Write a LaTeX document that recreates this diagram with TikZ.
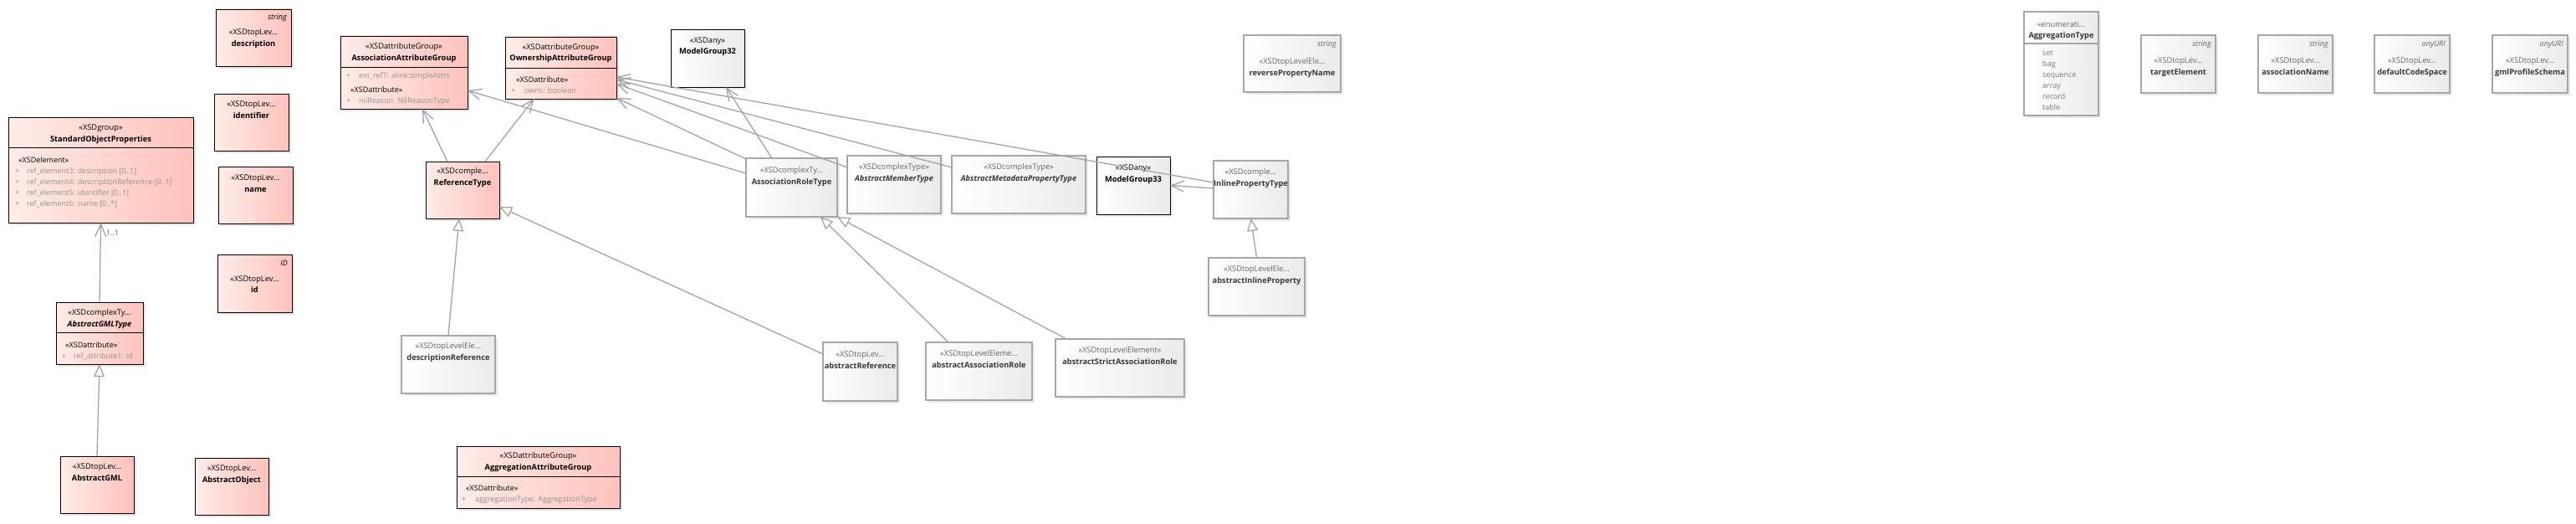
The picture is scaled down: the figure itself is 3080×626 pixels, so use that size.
\documentclass[tikz,border=0pt]{standalone}
\usepackage{fontspec}
\setmainfont{Open Sans}
\usetikzlibrary{arrows.meta,shadows}
\definecolor{pinkL}{RGB}{255,236,233}
\definecolor{pinkR}{RGB}{255,194,188}
\definecolor{boxgray}{RGB}{165,165,170}
\definecolor{linegray}{RGB}{163,163,168}
\definecolor{attrgray}{RGB}{145,145,145}
\definecolor{stgray}{RGB}{100,100,110}
\newcommand{\hd}[2]{\begin{tabular}[t]{@{}c@{}}#1\\#2\end{tabular}}
\newcommand{\ghd}[2]{\hd{\color{stgray}#1}{#2}}
\tikzset{pinkbox/.style = {draw, line width=0.9, left color=pinkL, right color=pinkR, anchor=north west, inner sep=0, outer sep=0, drop shadow={shadow xshift=3pt, shadow yshift=-3pt, opacity=.1, fill=black}}}
\tikzset{graybox/.style = {draw=boxgray, line width=1.5, left color=white, right color=black!8, anchor=north west, inner sep=0, outer sep=0, drop shadow={shadow xshift=3pt, shadow yshift=-3pt, opacity=.08, fill=black}}}
\tikzset{anybox/.style = {draw, line width=0.9, left color=white, right color=black!8, anchor=north west, inner sep=0, outer sep=0, drop shadow={shadow xshift=3pt, shadow yshift=-3pt, opacity=.08, fill=black}}}
\tikzset{txt/.style = {anchor=base, inner sep=0, font=\fontsize{9.3}{13.5}\selectfont}}
\tikzset{gtxt/.style = {txt, text={rgb,255:red,55;green,55;blue,62}}}
\tikzset{attr/.style = {anchor=base west, inner sep=0, text=attrgray, font=\fontsize{9}{13}\selectfont}}
\tikzset{typ/.style = {anchor=base east, inner sep=0, font=\fontsize{9}{11}\selectfont\itshape}}
\tikzset{lbl/.style = {inner sep=0, text=stgray, font=\fontsize{9}{11}\selectfont}}
\tikzset{assoc/.style = {draw=linegray, line width=1.3, -{Straight Barb[length=15pt, width=13pt]}}}
\tikzset{gen/.style = {draw=linegray, line width=1.3, -{Triangle[open, length=15pt, width=13pt, fill=white]}}}

\begin{document}
\begin{tikzpicture}[x=1pt, y=-1pt]
\fill[white] (0,0) rectangle (3080,626);
\useasboundingbox (0,0) rectangle (3080,626);

% top level elements
\node[pinkbox, minimum width=90, minimum height=68] (descr) at (258,11) {};
\node[typ] (descr-ty) at ([xshift=-5, yshift=-13]descr.north east) {string};
\node[txt] (descr-t) at ([yshift=-31]descr.north) {\hd{«XSDtopLev...}{\textbf{description}}};
\node[pinkbox, minimum width=89, minimum height=68] (ident) at (256,112) {};
\node[txt] (ident-t) at ([yshift=-15.5]ident.north) {\hd{«XSDtopLev...}{\textbf{identifier}}};
\node[pinkbox, minimum width=89, minimum height=68] (nm) at (261,199) {};
\node[txt] (nm-t) at ([yshift=-16.5]nm.north) {\hd{«XSDtopLev...}{\textbf{name}}};
\node[pinkbox, minimum width=89, minimum height=69] (idbox) at (260,304) {};
\node[typ] (idbox-ty) at ([xshift=-5, yshift=-13]idbox.north east) {ID};
\node[txt] (idbox-t) at ([yshift=-32]idbox.north) {\hd{«XSDtopLev...}{\textbf{id}}};
\node[pinkbox, minimum width=88, minimum height=68] (agml) at (72,545) {};
\node[txt] (agml-t) at ([yshift=-15.5]agml.north) {\hd{«XSDtopLev...}{\textbf{AbstractGML}}};
\node[pinkbox, minimum width=88, minimum height=68] (aobj) at (233,547) {};
\node[txt] (aobj-t) at ([yshift=-15.5]aobj.north) {\hd{«XSDtopLev...}{\textbf{AbstractObject}}};
\node[pinkbox, minimum width=88, minimum height=68] (reft) at (509,193) {};
\node[txt] (reft-t) at ([yshift=-14.5]reft.north) {\hd{«XSDcomple...}{\textbf{ReferenceType}}};

% groups with compartments
\node[pinkbox, minimum width=221, minimum height=126] (sop) at (10,140) {};
\draw ([yshift=-36]sop.north west) -- ([yshift=-36]sop.north east);
\node[txt] (sop-t) at ([yshift=-15.5]sop.north) {\hd{«XSDgroup»}{\textbf{StandardObjectProperties}}};
\node[attr] (sop-a) at ([xshift=8, yshift=-54.5]sop.north west) {\begin{tabular}[t]{@{}p{14pt}@{}l@{}}
\multicolumn{2}{@{\hspace{4pt}}l@{}}{\color{black}«XSDelement»}\\
+ & ref\_element3: description [0..1]\\
+ & ref\_element4: descriptionReference [0..1]\\
+ & ref\_element5: identifier [0..1]\\
+ & ref\_element6: name [0..*]
\end{tabular}};

\node[pinkbox, minimum width=104, minimum height=74] (agmlt) at (67,361) {};
\draw ([yshift=-36]agmlt.north west) -- ([yshift=-36]agmlt.north east);
\node[txt] (agmlt-t) at ([yshift=-15.5]agmlt.north) {\hd{«XSDcomplexTy...}{\textbf{\textit{AbstractGMLType}}}};
\node[attr] (agmlt-a) at ([xshift=7, yshift=-54.5]agmlt.north west) {\begin{tabular}[t]{@{}p{14pt}@{}l@{}}
\multicolumn{2}{@{\hspace{4pt}}l@{}}{\color{black}«XSDattribute»}\\
+ & ref\_attribute1: id
\end{tabular}};

\node[pinkbox, minimum width=152, minimum height=87] (aag) at (407,43) {};
\draw ([yshift=-37]aag.north west) -- ([yshift=-37]aag.north east);
\node[txt] (aag-t) at ([yshift=-15.5]aag.north) {\hd{«XSDattributeGroup»}{\textbf{AssociationAttributeGroup}}};
\node[attr] (aag-a) at ([xshift=7, yshift=-50.5]aag.north west) {\begin{tabular}[t]{@{}p{15pt}@{}l@{}}
+ & ext\_ref7: xlink:simpleAttrs\\[4pt]
\multicolumn{2}{@{\hspace{5pt}}l@{}}{\color{black}«XSDattribute»}\\
+ & nilReason: NilReasonType
\end{tabular}};

\node[pinkbox, minimum width=133, minimum height=74] (oag) at (604,44) {};
\draw ([yshift=-37]oag.north west) -- ([yshift=-37]oag.north east);
\node[txt] (oag-t) at ([yshift=-15.5]oag.north) {\hd{«XSDattributeGroup»}{\textbf{OwnershipAttributeGroup}}};
\node[attr] (oag-a) at ([xshift=7, yshift=-54.5]oag.north west) {\begin{tabular}[t]{@{}p{16pt}@{}l@{}}
\multicolumn{2}{@{\hspace{6pt}}l@{}}{\color{black}«XSDattribute»}\\
+ & owns: boolean
\end{tabular}};

\node[pinkbox, minimum width=195, minimum height=74] (aggag) at (546,533) {};
\draw ([yshift=-36]aggag.north west) -- ([yshift=-36]aggag.north east);
\node[txt] (aggag-t) at ([yshift=-14.5]aggag.north) {\hd{«XSDattributeGroup»}{\textbf{AggregationAttributeGroup}}};
\node[attr] (aggag-a) at ([xshift=6, yshift=-53.5]aggag.north west) {\begin{tabular}[t]{@{}p{16pt}@{}l@{}}
\multicolumn{2}{@{\hspace{5pt}}l@{}}{\color{black}«XSDattribute»}\\
+ & aggregationType: AggregationType
\end{tabular}};

% any groups
\node[anybox, minimum width=88, minimum height=69] (mg32) at (802,35) {};
\node[txt] (mg32-t) at ([yshift=-16.5]mg32.north) {\hd{«XSDany»}{\textbf{ModelGroup32}}};
\node[anybox, minimum width=88, minimum height=69] (mg33) at (1311,187) {};
\node[txt] (mg33-t) at ([yshift=-16.5]mg33.north) {\hd{«XSDany»}{\textbf{ModelGroup33}}};

% imported types
\node[graybox, minimum width=109, minimum height=70] (art) at (892,189) {};
\node[gtxt] (art-t) at ([yshift=-17.5]art.north) {\ghd{«XSDcomplexTy...}{\textbf{AssociationRoleType}}};
\node[graybox, minimum width=112, minimum height=69] (amt) at (1013,186) {};
\node[gtxt] (amt-t) at ([yshift=-16.5]amt.north) {\ghd{«XSDcomplexType»}{\textbf{\textit{AbstractMemberType}}}};
\node[graybox, minimum width=160, minimum height=69] (ampt) at (1138,186) {};
\node[gtxt] (ampt-t) at ([yshift=-16.5]ampt.north) {\ghd{«XSDcomplexType»}{\textbf{\textit{AbstractMetadataPropertyType}}}};
\node[graybox, minimum width=89, minimum height=69] (ipt) at (1451,192) {};
\node[gtxt] (ipt-t) at ([yshift=-16.5]ipt.north) {\ghd{«XSDcomple...}{\textbf{InlinePropertyType}}};
\node[graybox, minimum width=112, minimum height=69] (descref) at (480,401) {};
\node[gtxt] (descref-t) at ([yshift=-15.5]descref.north) {\ghd{«XSDtopLevelEle...}{\textbf{descriptionReference}}};
\node[graybox, minimum width=89, minimum height=70] (absref) at (984,409) {};
\node[gtxt] (absref-t) at ([yshift=-17.5]absref.north) {\ghd{«XSDtopLev...}{\textbf{abstractReference}}};
\node[graybox, minimum width=127, minimum height=69] (aar) at (1107,409) {};
\node[gtxt] (aar-t) at ([yshift=-16.5]aar.north) {\ghd{«XSDtopLevelEleme...}{\textbf{abstractAssociationRole}}};
\node[graybox, minimum width=154, minimum height=69] (asar) at (1262,405) {};
\node[gtxt] (asar-t) at ([yshift=-16.5]asar.north) {\ghd{«XSDtopLevelElement»}{\textbf{abstractStrictAssociationRole}}};
\node[graybox, minimum width=115, minimum height=69] (aip) at (1445,308) {};
\node[gtxt] (aip-t) at ([yshift=-16.5]aip.north) {\ghd{«XSDtopLevelEle...}{\textbf{abstractInlineProperty}}};
\node[graybox, minimum width=116, minimum height=68] (rpn) at (1487,42) {};
\node[typ, text=stgray] (rpn-ty) at ([xshift=-5, yshift=-13.5]rpn.north east) {string};
\node[gtxt] (rpn-t) at ([yshift=-34.5]rpn.north) {\ghd{«XSDtopLevelEle...}{\textbf{reversePropertyName}}};

% right hand row
\node[graybox, minimum width=89, minimum height=124] (aggt) at (2420,14) {};
\draw[boxgray, line width=1.5] ([yshift=-38]aggt.north west) -- ([yshift=-38]aggt.north east);
\node[gtxt] (aggt-t) at ([yshift=-18.5]aggt.north) {\ghd{«enumerati...}{\textbf{AggregationType}}};
\node[attr, text=black!52] (aggt-a) at ([xshift=22, yshift=-52.5]aggt.north west) {\begin{tabular}[t]{@{}l@{}}
set\\ bag\\ sequence\\ array\\ record\\ table
\end{tabular}};
\node[graybox, minimum width=89, minimum height=69] (tgt) at (2560,42) {};
\node[typ, text=stgray] (tgt-ty) at ([xshift=-5, yshift=-14]tgt.north east) {string};
\node[gtxt] (tgt-t) at ([yshift=-33.5]tgt.north) {\ghd{«XSDtopLev...}{\textbf{targetElement}}};
\node[graybox, minimum width=89, minimum height=69] (asn) at (2700,42) {};
\node[typ, text=stgray] (asn-ty) at ([xshift=-5, yshift=-14]asn.north east) {string};
\node[gtxt] (asn-t) at ([yshift=-33.5]asn.north) {\ghd{«XSDtopLev...}{\textbf{associationName}}};
\node[graybox, minimum width=90, minimum height=69] (dcs) at (2839,42) {};
\node[typ, text=stgray] (dcs-ty) at ([xshift=-5, yshift=-14]dcs.north east) {anyURI};
\node[gtxt] (dcs-t) at ([yshift=-33.5]dcs.north) {\ghd{«XSDtopLev...}{\textbf{defaultCodeSpace}}};
\node[graybox, minimum width=90, minimum height=69] (gps) at (2980,42) {};
\node[typ, text=stgray] (gps-ty) at ([xshift=-5, yshift=-14]gps.north east) {anyURI};
\node[gtxt] (gps-t) at ([yshift=-33.5]gps.north) {\ghd{«XSDtopLev...}{\textbf{gmlProfileSchema}}};

% connectors
\draw[assoc] (agmlt.north) -- (sop.south) node[pos=0.87, right=6pt, lbl] (mult) {1..1};
\draw[gen] (agml.north) -- (agmlt.south);
\draw[assoc] ([xshift=-18]reft.north) -- ([xshift=22]aag.south);
\draw[assoc] ([xshift=27]reft.north) -- ([xshift=-32]oag.south);
\draw[gen] (descref.north) -- ([xshift=-4]reft.south);
\draw[gen] ([yshift=-14]absref.north west) -- ([yshift=14]reft.south east);
\draw[assoc] ([yshift=-18]art.north west) -- ([yshift=22]aag.south east);
\draw[assoc] ([yshift=-1]art.north west) -- ([yshift=1]oag.south east);
\draw[assoc] ([xshift=-23.5]art.north) -- ([xshift=22]mg32.south);
\draw[assoc] ([yshift=-14]amt.north west) -- ([yshift=-19]oag.east);
\draw[assoc] ([yshift=-14]ampt.north west) -- ([yshift=-14]oag.east);
\draw[assoc] ([yshift=8.5]ipt.west) -- ([yshift=-11]oag.east);
\draw[assoc] ([yshift=1.5]ipt.west) -- (mg33.east);
\draw[gen] ([xshift=-36.5]aar.north) -- ([xshift=34.5]art.south);
\draw[gen] ([xshift=-64]asar.north) -- (art.south east);
\draw[gen] (aip.north) -- (ipt.south);
\end{tikzpicture}
\end{document}
